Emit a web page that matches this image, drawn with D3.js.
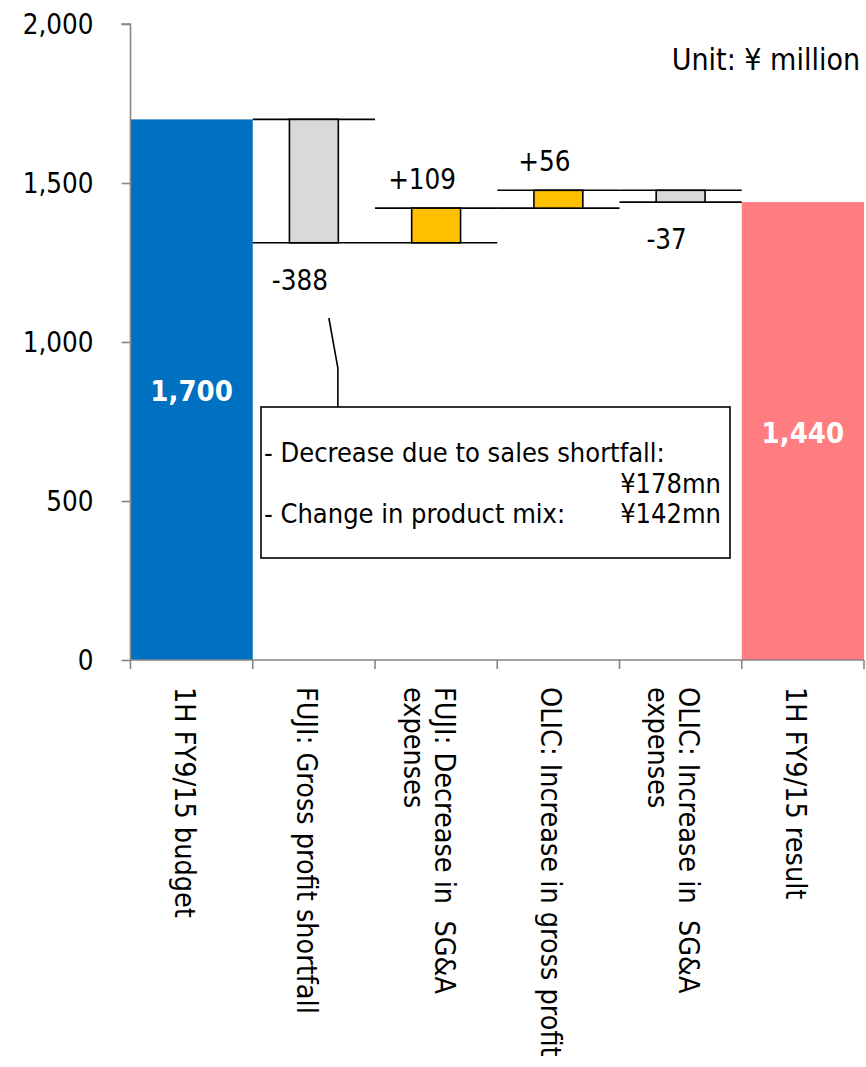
<!DOCTYPE html>
<html>
<head>
<meta charset="utf-8">
<script src="https://cdn.jsdelivr.net/npm/d3@7"></script>
<style>
  html, body { margin: 0; padding: 0; background: #fff; }
  svg { display: block; }
  text { font-family: "DejaVu Sans Condensed", "DejaVu Sans", sans-serif; font-stretch: condensed; fill: #000; }
</style>
</head>
<body>
<svg id="chart" width="866" height="1067"></svg>
<script>
// Operating profit bridge, 1H FY9/15: budget -> result (¥ million)
const categories = [
  "1H FY9/15 budget",
  "FUJI: Gross profit shortfall",
  "FUJI: Decrease in SG&A expenses",
  "OLIC: Increase in gross profit",
  "OLIC: Increase in SG&A expenses",
  "1H FY9/15 result"
];
const categoryLines = [
  ["1H FY9/15 budget"],
  ["FUJI: Gross profit shortfall"],
  ["FUJI: Decrease in  SG&A", "expenses"],
  ["OLIC: Increase in gross profit"],
  ["OLIC: Increase in  SG&A", "expenses"],
  ["1H FY9/15 result"]
];
const budgetValue = 1700;
const changeValues = [-388, 109, 56, -37];
const resultValue = 1440;
const yTickValues = [0, 500, 1000, 1500, 2000];
const unitLabel = "Unit: ¥ million";
const noteLines = [
  ["- Decrease due to sales shortfall:", ""],
  ["", "¥178mn"],
  ["- Change in product mix:", "¥142mn"]
];

const colors = {
  budget: "#0070c0",
  result: "#ff7c80",
  increase: "#ffc000",
  decrease: "#d9d9d9",
  axis: "#868686"
};

const svg = d3.select("#chart");
const fontSize = 27.5;

const x = d3.scaleBand().domain(categories).range([130.5, 864]).padding(0);
const y = d3.scaleLinear().domain([0, 2000]).range([660, 24]);

// Build floating segments for the waterfall
let running = budgetValue;
const steps = changeValues.map((d, i) => {
  const start = running;
  running += d;
  return { cat: categories[i + 1], start, end: running, delta: d };
});

// Totals (full-width columns)
const totals = [
  { cat: categories[0], value: budgetValue, color: colors.budget },
  { cat: categories[5], value: resultValue, color: colors.result }
];
svg.append("g").selectAll("rect").data(totals).join("rect")
  .attr("x", d => x(d.cat))
  .attr("width", x.bandwidth())
  .attr("y", d => y(d.value))
  .attr("height", d => y(0) - y(d.value))
  .attr("fill", d => d.color);

// Level lines across each step's band
const levelG = svg.append("g").attr("stroke", "#000").attr("stroke-width", 1.6);
steps.forEach(s => {
  [s.start, s.end].forEach(v => {
    levelG.append("line")
      .attr("x1", x(s.cat)).attr("x2", x(s.cat) + x.bandwidth())
      .attr("y1", y(v)).attr("y2", y(v));
  });
});

// Floating change bars
const barW = x.bandwidth() * 0.4;
svg.append("g").selectAll("rect").data(steps).join("rect")
  .attr("x", d => x(d.cat) + (x.bandwidth() - barW) / 2)
  .attr("width", barW)
  .attr("y", d => y(Math.max(d.start, d.end)))
  .attr("height", d => Math.abs(y(d.start) - y(d.end)))
  .attr("fill", d => d.delta >= 0 ? colors.increase : colors.decrease)
  .attr("stroke", "#000")
  .attr("stroke-width", 1.6);

// Change labels
const signFmt = d3.format("+,");
svg.append("g").selectAll("text").data(steps).join("text")
  .attr("x", d => x(d.cat) + x.bandwidth() / 2 - 14)
  .attr("y", d => d.delta >= 0 ? y(d.end) - 19 : y(d.end) + 47)
  .attr("text-anchor", "middle")
  .attr("font-size", fontSize)
  .text(d => signFmt(d.delta).replace("−", "-"));

// Total labels inside the columns
svg.append("g").selectAll("text").data(totals).join("text")
  .attr("x", d => x(d.cat) + x.bandwidth() / 2)
  .attr("y", (d, i) => i === 0 ? 401 : 443)
  .attr("text-anchor", "middle")
  .attr("font-size", 29)
  .attr("font-weight", "bold")
  .style("fill", "#fff")
  .text(d => d3.format(",")(d.value));

// Y axis
const yAxis = svg.append("g")
  .attr("transform", "translate(130.5,0)")
  .call(d3.axisLeft(y).tickValues(yTickValues).tickSize(9).tickPadding(28).tickFormat(d3.format(",")));
yAxis.select(".domain").attr("stroke", colors.axis).attr("stroke-width", 1.6).attr("d", `M-9,${y(2000)}H0V${y(0)}`);
yAxis.selectAll(".tick line").attr("stroke", colors.axis).attr("stroke-width", 1.6);
yAxis.selectAll(".tick text").attr("font-size", fontSize).attr("font-family", null).attr("dy", "0.36em");

// X axis with ticks on band boundaries
const xAxisG = svg.append("g").attr("stroke", colors.axis).attr("stroke-width", 1.6);
xAxisG.append("line")
  .attr("x1", x.range()[0]).attr("x2", x.range()[1])
  .attr("y1", y(0)).attr("y2", y(0));
const bounds = categories.map(c => x(c)).concat([x.range()[1]]);
xAxisG.selectAll("line.tk").data(bounds).join("line")
  .attr("class", "tk")
  .attr("x1", d => d).attr("x2", d => d)
  .attr("y1", y(0)).attr("y2", y(0) + 9);

// Rotated category labels
const lineGap = 31;
const catG = svg.append("g");
categories.forEach((c, i) => {
  const lines = categoryLines[i];
  const cx = x(c) + x.bandwidth() / 2;
  lines.forEach((ln, j) => {
    const bx = cx - 17 + ((lines.length - 1) / 2 - j) * lineGap;
    catG.append("text")
      .attr("transform", `translate(${bx},687) rotate(90)`)
      .attr("font-size", 28.5)
      .style("white-space", "pre")
      .text(ln);
  });
});

// Unit note
svg.append("text")
  .attr("x", 860).attr("y", 70)
  .attr("text-anchor", "end")
  .attr("font-size", 30)
  .text(unitLabel);

// Breakdown callout for the gross profit shortfall
const gpCat = categories[1];
const gx = x(gpCat) + x.bandwidth() / 2;
const box = { x0: 261, x1: 730, y0: 407, y1: 558 };
svg.append("path")
  .attr("d", `M${gx + 15},318 L${gx + 24},368 L${gx + 24},${box.y0}`)
  .attr("fill", "none").attr("stroke", "#000").attr("stroke-width", 1.6);
svg.append("rect")
  .attr("x", box.x0).attr("y", box.y0)
  .attr("width", box.x1 - box.x0).attr("height", box.y1 - box.y0)
  .attr("fill", "#fff").attr("stroke", "#000").attr("stroke-width", 1.6);
const noteG = svg.append("g").attr("font-size", 27);
noteLines.forEach((pair, i) => {
  const by = 462 + i * 30.5;
  if (pair[0]) noteG.append("text").attr("x", box.x0 + 3).attr("y", by).text(pair[0]);
  if (pair[1]) noteG.append("text").attr("x", box.x1 - 9).attr("y", by).attr("text-anchor", "end").text(pair[1]);
});
</script>
</body>
</html>
